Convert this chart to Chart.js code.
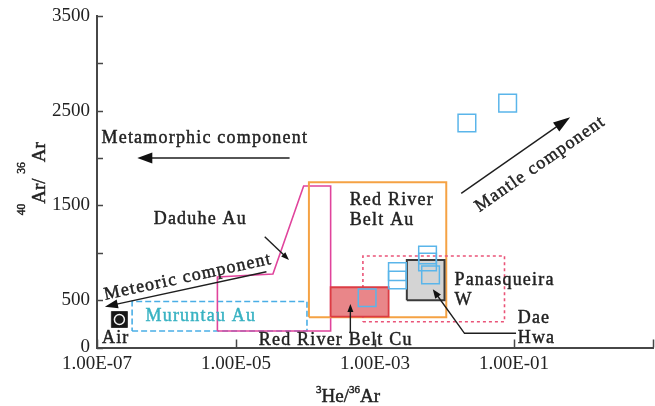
<!DOCTYPE html>
<html>
<head>
<meta charset="utf-8">
<script src="https://cdn.jsdelivr.net/npm/chart.js@4.4.1/dist/chart.umd.min.js"></script>
<style>
  html, body { margin: 0; padding: 0; background: #fff; }
  #c { display: block; }
</style>
</head>
<body>
<canvas id="c" width="655" height="406"></canvas>
<script>
// ---- axis ticks ----
const xTicks = [1e-7, 1e-5, 1e-3, 1e-1, 1e1];
const xTickLabels = ['1.00E-07', '1.00E-05', '1.00E-03', '1.00E-01', ''];
const yTicks = [0, 500, 1000, 1500, 2000, 2500, 3000, 3500];
const yTickLabels = ['0', '500', '', '1500', '', '2500', '', '3500'];

// ---- individual fluid-inclusion analyses (3He/36Ar, 40Ar/36Ar) ----
const sampleHe = [0.021, 0.081, 7.7e-4, 2.1e-3, 2.1e-3, 5.7e-3, 5.7e-3, 6.3e-3];
const sampleAr = [2370, 2580, 525, 802, 713, 977, 903, 766];

// ---- atmospheric reference ----
const airHe = [2.1e-7];
const airAr = [295.5];

// ---- deposit fields (closed outlines) ----
const muruntauHe = [3.2e-7, 1.05e-4, 1.05e-4, 3.2e-7, 3.2e-7];
const muruntauAr = [175, 175, 485, 485, 175];

const daduheHe = [5.4e-6, 2.3e-4, 2.3e-4, 9.4e-5, 3.4e-5, 5.4e-6, 5.4e-6];
const daduheAr = [175, 175, 1705, 1705, 775, 745, 175];

const redRiverAuHe = [1.12e-4, 1.06e-2, 1.06e-2, 1.12e-4, 1.12e-4];
const redRiverAuAr = [320, 320, 1745, 1745, 320];

const redRiverCuHe = [2.3e-4, 1.57e-3, 1.57e-3, 2.3e-4, 2.3e-4];
const redRiverCuAr = [325, 325, 636, 636, 325];

const panasqueiraHe = [2.87e-3, 1.0e-2, 1.0e-2, 2.87e-3, 2.87e-3];
const panasqueiraAr = [500, 500, 925, 925, 500];

const daeHwaHe = [6.7e-4, 7.3e-2, 7.3e-2, 6.7e-4, 6.7e-4];
const daeHwaAr = [272, 272, 966, 966, 272];

// ---- annotation anchors (data units) ----
const fieldLabels = [
  { lines: ['Metamorphic component'], he: 3.56e-6, ar: 2212, align: 'center' },
  { lines: ['Daduhe Au'], he: 3.07e-6, ar: 1357, align: 'center' },
  { lines: ['Red River', 'Belt Au'], he: 4.32e-4, ar: 1550, align: 'left' },
  { lines: ['Muruntau Au'], he: 3.12e-6, ar: 333, align: 'center', color: '#38b2c2' },
  { lines: ['Air'], he: 1.86e-7, ar: 97, align: 'center' },
  { lines: ['Red River Belt Cu'], he: 2.72e-4, ar: 72, align: 'center' },
  { lines: ['Panasqueira', 'W'], he: 1.39e-2, ar: 705, align: 'left' },
  { lines: ['Dae', 'Hwa'], he: 0.113, ar: 308, align: 'left' }
];

const arrows = [
  { he: [5.9e-5, 3.8e-7], ar: [2000, 2000], head: 15, half: 5.5 },        // metamorphic trend
  { he: [1.74e-2, 0.642], ar: [1628, 2430], head: 17, half: 5.5 },        // mantle trend
  { he: [2.74e-5, 1.3e-7], ar: [800, 431], head: 13, half: 4.5 },         // meteoric trend
  { he: [2.59e-5, 5.79e-5], ar: [1170, 924], head: 8, half: 3 },          // Daduhe pointer
  { he: [4.42e-4, 4.42e-4], ar: [150, 459], head: 8, half: 3 },           // Red River Cu pointer
  { he: [0.107, 1.94e-2, 6.79e-3], ar: [150, 150, 614], head: 9, half: 3.5 } // Dae Hwa pointer
];

const trendLabels = [
  { text: 'Mantle component', arrow: 1, he: 0.239, ar: 1937 },
  { text: 'Meteoric component', arrow: 2, he: 2.03e-6, ar: 744 }
];

const FAMILY = "'Liberation Serif', 'Times New Roman', serif";
const TEXT = '#222';
const AXIS = '#474747';

const pts = (xs, ys) => xs.map((v, i) => ({ x: v, y: ys[i] }));

function outline(label, xs, ys, color, extra) {
  return Object.assign({
    label, data: pts(xs, ys), showLine: true, tension: 0,
    pointRadius: 0, borderColor: color, borderWidth: 1.6, fill: false
  }, extra || {});
}

function drawArrow(ctx, P, head, half) {
  const n = P.length;
  const [tx, ty] = P[n - 1], [qx, qy] = P[n - 2];
  const a = Math.atan2(ty - qy, tx - qx);
  const c = Math.cos(a), s = Math.sin(a);
  const bx = tx - head * c, by = ty - head * s;
  ctx.beginPath();
  ctx.moveTo(P[0][0], P[0][1]);
  for (let i = 1; i < n - 1; i++) ctx.lineTo(P[i][0], P[i][1]);
  ctx.lineTo(bx + 2 * c, by + 2 * s);
  ctx.stroke();
  ctx.beginPath();
  ctx.moveTo(tx, ty);
  ctx.lineTo(bx - half * s, by + half * c);
  ctx.lineTo(bx + half * s, by - half * c);
  ctx.closePath();
  ctx.fill();
}

// text drawn with a hairline outline so the serif strokes read a little heavier
function heavyText(ctx, str, x, y) {
  ctx.fillText(str, x, y);
  ctx.strokeText(str, x, y);
}

function drawRich(ctx, segs, cx, cy, angle, mainSize, supSize, raise) {
  ctx.save();
  ctx.translate(cx, cy);
  ctx.rotate(angle);
  ctx.textAlign = 'left';
  ctx.textBaseline = 'alphabetic';
  const fontFor = sg => (sg.sup ? supSize : mainSize) + 'px ' + FAMILY;
  let total = 0;
  const w = segs.map(sg => { ctx.font = fontFor(sg); const m = ctx.measureText(sg.t).width; total += m; return m; });
  let xx = -total / 2;
  segs.forEach((sg, i) => {
    ctx.font = fontFor(sg);
    heavyText(ctx, sg.t, xx, sg.sup ? -raise : 0);
    xx += w[i];
  });
  ctx.restore();
}

const overlay = {
  id: 'overlay',
  afterDatasetsDraw(chart) {
    const { ctx, chartArea: area, scales: { x, y } } = chart;
    const X = v => x.getPixelForValue(v);
    const Y = v => y.getPixelForValue(v);
    ctx.save();

    // inward tick marks
    ctx.strokeStyle = AXIS;
    ctx.lineWidth = 1.5;
    ctx.beginPath();
    x.ticks.forEach(t => {
      const px = Math.round(X(t.value)) + 0.5;
      ctx.moveTo(px, area.bottom);
      ctx.lineTo(px, area.bottom - 8);
    });
    y.ticks.forEach(t => {
      const py = Math.round(Y(t.value)) + 0.5;
      ctx.moveTo(area.left, py);
      ctx.lineTo(area.left + 6, py);
    });
    ctx.stroke();

    // trend arrows and pointers
    ctx.strokeStyle = '#1e1e1e';
    ctx.fillStyle = '#111';
    ctx.lineWidth = 1.4;
    arrows.forEach(a => {
      drawArrow(ctx, a.he.map((h, i) => [X(h), Y(a.ar[i])]), a.head, a.half);
    });

    // field labels
    ctx.font = '18px ' + FAMILY;
    ctx.textBaseline = 'middle';
    ctx.lineWidth = 0.45;
    if ('letterSpacing' in ctx) ctx.letterSpacing = '1.2px';
    fieldLabels.forEach(l => {
      ctx.fillStyle = l.color || TEXT;
      ctx.strokeStyle = l.color || TEXT;
      ctx.textAlign = l.align;
      l.lines.forEach((line, i) => heavyText(ctx, line, X(l.he), Y(l.ar) + i * 20));
    });

    // labels running along the trend arrows
    ctx.fillStyle = TEXT;
    ctx.strokeStyle = TEXT;
    trendLabels.forEach(l => {
      const a = arrows[l.arrow];
      let dx = X(a.he[a.he.length - 1]) - X(a.he[0]);
      let dy = Y(a.ar[a.ar.length - 1]) - Y(a.ar[0]);
      if (dx < 0) { dx = -dx; dy = -dy; }
      ctx.save();
      ctx.translate(X(l.he), Y(l.ar));
      ctx.rotate(Math.atan2(dy, dx));
      ctx.textAlign = 'center';
      heavyText(ctx, l.text, 0, 0);
      ctx.restore();
    });
    if ('letterSpacing' in ctx) ctx.letterSpacing = '0px';

    // axis titles
    drawRich(ctx, [{ t: '40', sup: true }, { t: 'Ar/ ' }, { t: '36', sup: true }, { t: 'Ar' }],
      area.left - 52, (area.top + area.bottom) / 2 - 3, -Math.PI / 2, 19, 11.5, 20);
    drawRich(ctx, [{ t: '3', sup: true }, { t: 'He/' }, { t: '36', sup: true }, { t: 'Ar' }],
      area.left + 251, area.bottom + 54, 0, 19, 11, 8.5);

    ctx.restore();
  }
};

Chart.defaults.font.family = FAMILY;

new Chart(document.getElementById('c'), {
  type: 'scatter',
  data: {
    datasets: [
      { label: 'Samples', data: pts(sampleHe, sampleAr), pointStyle: 'rect', pointRadius: 12.5,
        borderColor: '#5ab5ea', backgroundColor: 'rgba(0,0,0,0)', borderWidth: 1.5, order: 0 },
      { label: 'Air', data: pts(airHe, airAr), pointStyle: 'circle', pointRadius: 5,
        borderColor: '#f4f4f4', backgroundColor: '#1a1a1a', borderWidth: 1.5, order: 0 },
      { label: 'Air frame', data: pts(airHe, airAr), pointStyle: 'rect', pointRadius: 11.3,
        borderColor: '#333', backgroundColor: '#161616', borderWidth: 1, order: 1 },
      outline('Panasqueira W', panasqueiraHe, panasqueiraAr, '#3a3a3a',
        { fill: 'shape', backgroundColor: '#d4d4d4', borderWidth: 2, order: 2 }),
      outline('Red River Belt Cu', redRiverCuHe, redRiverCuAr, '#dc3c44',
        { fill: 'shape', backgroundColor: '#e98689', borderWidth: 1.8, order: 3 }),
      outline('Dae Hwa', daeHwaHe, daeHwaAr, '#ea5478', { borderDash: [3, 3], borderWidth: 1.6, order: 4 }),
      outline('Red River Belt Au', redRiverAuHe, redRiverAuAr, '#f5a244', { borderWidth: 2, order: 5 }),
      outline('Daduhe Au', daduheHe, daduheAr, '#e0449c', { borderWidth: 1.6, order: 6 }),
      outline('Muruntau Au', muruntauHe, muruntauAr, '#4aaee6', { borderDash: [6, 3], borderWidth: 1.6, order: 7 })
    ]
  },
  options: {
    responsive: false,
    devicePixelRatio: 1,
    animation: false,
    layout: { autoPadding: false, padding: { top: 16, right: 2, left: 0, bottom: 0 } },
    plugins: { legend: { display: false }, tooltip: { enabled: false } },
    scales: {
      x: {
        type: 'logarithmic',
        min: 1e-7, max: 1e1,
        afterBuildTicks: s => { s.ticks = xTicks.map(v => ({ value: v })); },
        afterFit: s => { s.height = 58.5; s.paddingLeft = 0; s.paddingRight = 0; },
        ticks: {
          autoSkip: false, maxRotation: 0, padding: 5, color: TEXT,
          font: { size: 19, family: FAMILY },
          callback: (v, i) => xTickLabels[i]
        },
        grid: { display: false, drawTicks: false },
        border: { display: true, color: AXIS, width: 2 }
      },
      y: {
        min: 0, max: 3500,
        afterBuildTicks: s => { s.ticks = yTicks.map(v => ({ value: v })); },
        afterFit: s => { s.width = 97; s.paddingTop = 0; s.paddingBottom = 0; },
        ticks: {
          autoSkip: false, padding: 7, color: TEXT,
          font: { size: 19, family: FAMILY },
          callback: (v, i) => yTickLabels[i]
        },
        grid: { display: false, drawTicks: false },
        border: { display: true, color: AXIS, width: 2 }
      }
    }
  },
  plugins: [overlay]
});
</script>
</body>
</html>
